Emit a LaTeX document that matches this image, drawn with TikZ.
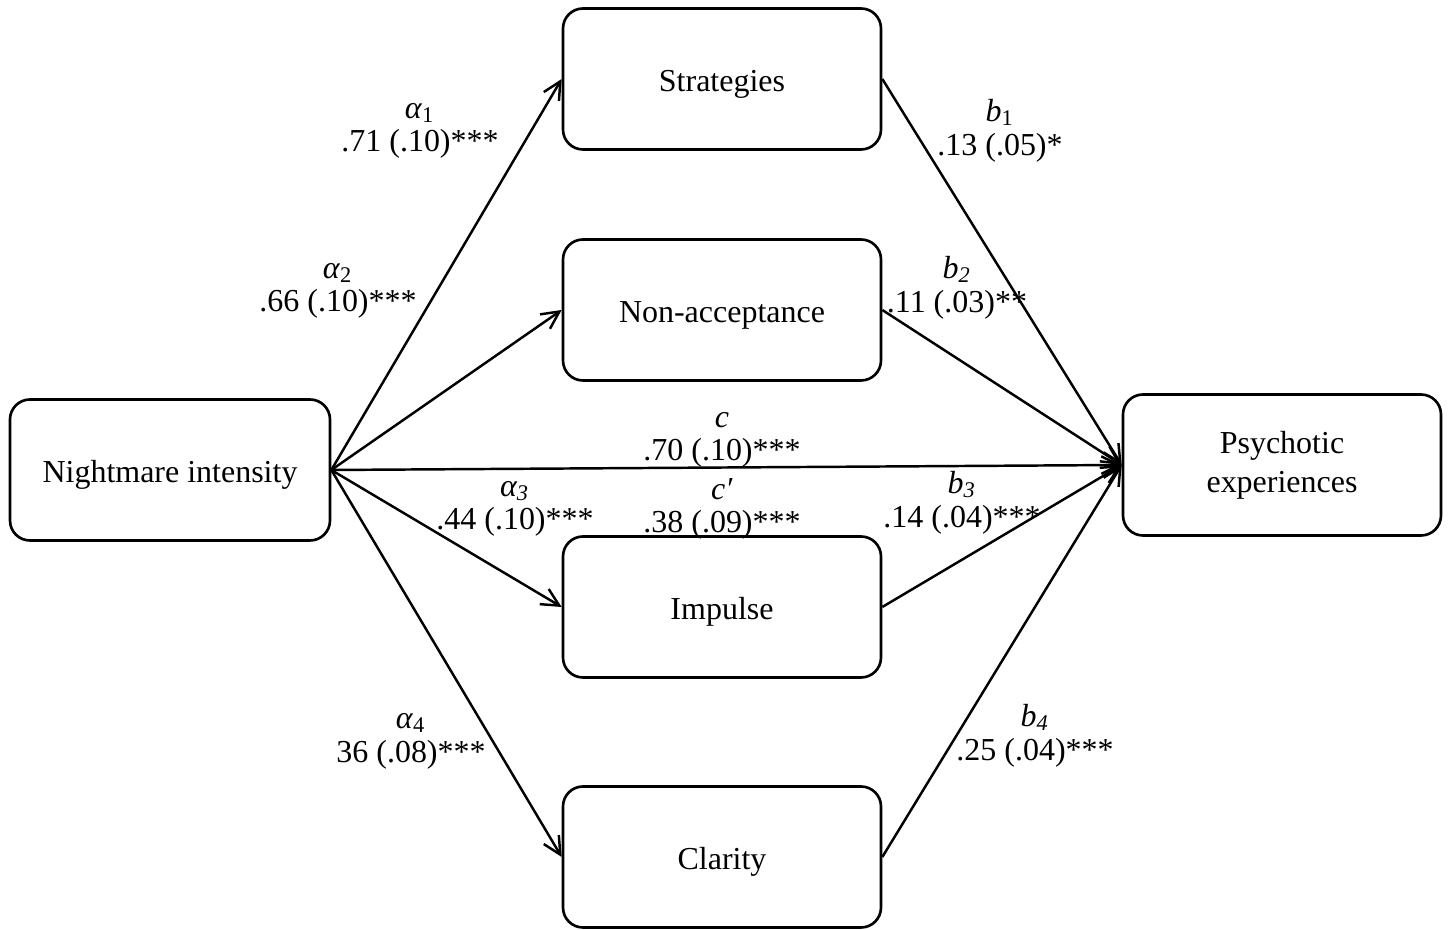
\documentclass[tikz,border=0pt]{standalone}
\usepackage{fontspec}
\setmainfont{Liberation Serif}
\usetikzlibrary{arrows.meta}

\begin{document}
\begin{tikzpicture}[
    box/.style={draw, line width=0.75pt, rounded corners=0.2cm, minimum width=3.18cm, minimum height=1.41cm, align=center, font=\fontsize{9.1}{11.1}\selectfont, execute at begin node=\rule[-0.22em]{0pt}{1.22em}},
    lbl/.style={align=center, inner sep=0pt, font=\fontsize{9.1}{9.6}\selectfont},
    path/.style={line width=0.7pt, -{Straight Barb[length=5pt,width=5pt]}}
  ]
  \useasboundingbox (0,0) rectangle (14.52,9.30);

  % boxes
  \node[box, minimum width=3.20cm] (nightmare) at (1.70,4.60) {Nightmare intensity};
  \node[box] (strategies) at (7.22,8.51) {Strategies};
  \node[box] (nonaccept) at (7.22,6.20) {Non-acceptance};
  \node[box] (impulse) at (7.22,3.23) {Impulse};
  \node[box] (clarity) at (7.22,0.73) {Clarity};
  \node[box] (psychotic) at (12.82,4.65) {Psychotic\\experiences};

  % paths
  \draw[path] (nightmare.east) -- (strategies.west);
  \draw[path] (nightmare.east) -- (nonaccept.west);
  \draw[path] (nightmare.east) -- (impulse.west);
  \draw[path] (nightmare.east) -- (clarity.west);
  \draw[path] (nightmare.east) -- (psychotic.west);
  \draw[path] (strategies.east) -- (psychotic.west);
  \draw[path] (nonaccept.east) -- (psychotic.west);
  \draw[path] (impulse.east) -- (psychotic.west);
  \draw[path] (clarity.east) -- (psychotic.west);

  % coefficients
  \node[lbl] (a1) at (4.20,7.99) {\textit{α}\textsubscript{1}\\.71 (.10)***};
  \node[lbl] (a2) at (3.38,6.39) {\textit{α}\textsubscript{2}\\.66 (.10)***};
  \node[lbl] (a3) at (5.15,4.21) {\textit{α\textsubscript{3}}\\.44 (.10)***};
  \node[lbl] (a4) at (4.11,1.89) {\textit{α}\textsubscript{4}\\36 (.08)***};
  \node[lbl] (b1) at (10.00,7.99) {\textit{b}\textsubscript{1}\\.13 (.05)*};
  \node[lbl] (b2) at (9.57,6.42) {\textit{b\textsubscript{2}}\\.11 (.03)**};
  \node[lbl] (b3) at (9.62,4.27) {\textit{b\textsubscript{3}}\\.14 (.04)***};
  \node[lbl] (b4) at (10.35,1.94) {\textit{b\textsubscript{4}}\\.25 (.04)***};
  \node[lbl] (c) at (7.22,4.90) {\textit{c}\\.70 (.10)***};
  \node[lbl] (cprime) at (7.22,4.21) {\textit{c′}\\.38 (.09)***};
\end{tikzpicture}
\end{document}
